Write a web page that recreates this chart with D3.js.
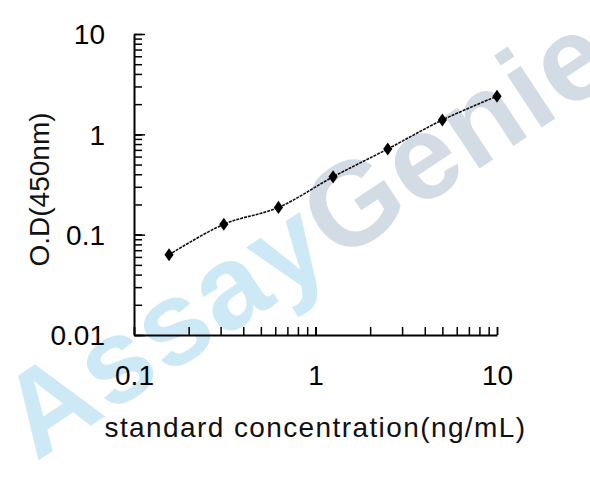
<!DOCTYPE html>
<html>
<head>
<meta charset="utf-8">
<script src="https://cdn.jsdelivr.net/npm/d3@7"></script>
<style>
	body { margin: 0; background: #fff; }
	svg text { font-family: "Liberation Sans", Arial, sans-serif; fill: #000; }
</style>
</head>
<body>
<svg id="chart" width="590" height="478"></svg>
<script>
// standard curve data
var concentrations = [0.156, 0.3125, 0.625, 1.25, 2.5, 5, 10];
var odValues = [0.063, 0.127, 0.187, 0.377, 0.715, 1.39, 2.4];

var xMajorTicks = [0.1, 1, 10];
var yMajorTicks = [0.01, 0.1, 1, 10];
var xTickLabels = ["0.1", "1", "10"];
var yTickLabels = ["0.01", "0.1", "1", "10"];

var xTitle = "standard concentration(ng/mL)";
var yTitle = "O.D(450nm)";

var margin = {left: 134, top: 34, right: 93, bottom: 143},
	width = 590 - margin.left - margin.right,
	height = 478 - margin.top - margin.bottom;

var $svg = d3.select("#chart");

// watermark
var $wm = $svg.append("text")
	.attr("transform", "translate(36,462) rotate(-33.5)")
	.style("font-size", "119px")
	.style("font-weight", "bold")
	.style("letter-spacing", "2px");
$wm.append("tspan").style("fill", "#cde9f6").text("Assay");
$wm.append("tspan").style("fill", "#d3dce4").text("Genie");

var x = d3.scaleLog().domain([0.1, 10]).range([0, width]),
	y = d3.scaleLog().domain([0.01, 10]).range([height, 0]);

function minorTicks(scale) {
	var d = scale.domain(), aRet = [];
	for (var e = Math.log10(d[0]); e < Math.log10(d[1]); e++) {
		for (var k = 1; k <= 10; k++) {
			aRet.push(k * Math.pow(10, e));
		}
	}
	return aRet;
}

var $g = $svg.append("g")
	.attr("transform", "translate(" + margin.left + "," + margin.top + ")");

// minor ticks
$g.append("g")
	.attr("transform", "translate(0," + height + ")")
	.call(d3.axisBottom(x).tickValues(minorTicks(x)).tickSize(-8).tickFormat(""))
	.call(function (g) { g.select(".domain").remove(); });
$g.append("g")
	.call(d3.axisLeft(y).tickValues(minorTicks(y)).tickSize(-8).tickFormat(""))
	.call(function (g) { g.select(".domain").remove(); });

// major ticks + labels
var $xAxis = $g.append("g")
	.attr("transform", "translate(0," + height + ")")
	.call(d3.axisBottom(x).tickValues(xMajorTicks).tickSizeInner(-8).tickSizeOuter(0)
		.tickPadding(30).tickFormat(function (d, i) { return xTickLabels[i]; }));
var $yAxis = $g.append("g")
	.call(d3.axisLeft(y).tickValues(yMajorTicks).tickSizeInner(-11).tickSizeOuter(0)
		.tickPadding(29).tickFormat(function (d, i) { return yTickLabels[i]; }));

$g.selectAll(".tick line").attr("stroke", "#000").attr("stroke-width", 1.5);
$g.selectAll(".domain").attr("stroke", "#000").attr("stroke-width", 2);
$g.selectAll(".tick text").style("font-size", "28px").attr("fill", "#111");
$yAxis.selectAll(".tick text").attr("dy", "0.35em");

// titles
$svg.append("text")
	.attr("x", margin.left + width / 2)
	.attr("y", 437)
	.attr("text-anchor", "middle")
	.style("font-size", "28px")
	.style("letter-spacing", "1.4px")
	.style("fill", "#111")
	.text(xTitle);
$svg.append("text")
	.attr("transform", "translate(49," + (margin.top + height / 2 + 5) + ") rotate(-90)")
	.attr("text-anchor", "middle")
	.style("font-size", "28px")
	.style("fill", "#111")
	.text(yTitle);

// curve
var aData = concentrations.map(function (c, i) { return {c: c, od: odValues[i]}; });

$g.append("path")
	.datum(aData)
	.attr("fill", "none")
	.attr("stroke", "#111")
	.attr("stroke-width", 1.6)
	.attr("stroke-dasharray", "3,1")
	.attr("d", d3.line()
		.curve(d3.curveCatmullRom)
		.x(function (d) { return x(d.c); })
		.y(function (d) { return y(d.od); }));

$g.selectAll(".point")
	.data(aData)
	.enter().append("path")
	.attr("class", "point")
	.attr("d", d3.symbol().type(d3.symbolDiamond).size(55))
	.attr("fill", "#000")
	.attr("transform", function (d) {
		return "translate(" + x(d.c) + "," + y(d.od) + ") scale(1.15,0.95)";
	});
</script>
</body>
</html>
